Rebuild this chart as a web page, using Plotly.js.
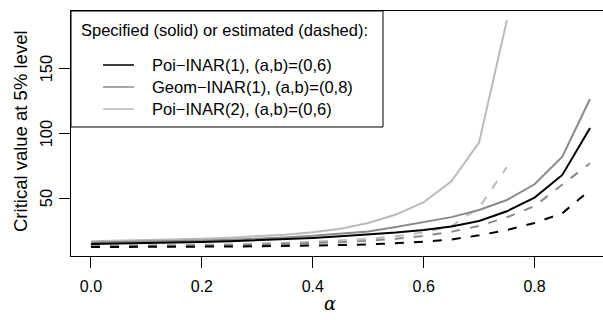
<!DOCTYPE html>
<html>
<head>
<meta charset="utf-8">
<script src="https://cdn.plot.ly/plotly-3.0.1.min.js"></script>
<style>
html, body { margin: 0; padding: 0; overflow: hidden; background: #fff; }
#chart { width: 620px; height: 320px; }
</style>
</head>
<body>
<div id="chart"></div>
<script>
// alpha grid
const alpha = [0, 0.05, 0.1, 0.15, 0.2, 0.25, 0.3, 0.35, 0.4, 0.45, 0.5, 0.55, 0.6, 0.65, 0.7, 0.75, 0.8, 0.85, 0.9];
const alpha2 = [0, 0.05, 0.1, 0.15, 0.2, 0.25, 0.3, 0.35, 0.4, 0.45, 0.5, 0.55, 0.6, 0.65, 0.7, 0.75];

// Poi-INAR(1), (a,b)=(0,6)
const poi1Spec = [14.8, 15.1, 15.4, 15.8, 16.3, 16.9, 17.6, 18.5, 19.5, 20.7, 22.0, 23.6, 25.6, 28.3, 32.5, 40.0, 50.5, 68.0, 104.0];
const poi1Est  = [12.5, 12.5, 12.6, 12.7, 12.8, 12.9, 13.1, 13.3, 13.6, 14.0, 14.5, 15.3, 16.5, 18.3, 21.5, 25.6, 31.0, 38.5, 56.4];
// Geom-INAR(1), (a,b)=(0,8)
const geomSpec = [16.0, 16.3, 16.6, 17.0, 17.5, 18.1, 18.9, 19.9, 21.1, 22.6, 24.5, 28.0, 31.5, 35.5, 41.0, 48.7, 60.8, 82.0, 126.4];
const geomEst  = [13.0, 13.1, 13.2, 13.4, 13.6, 13.9, 14.3, 14.8, 15.4, 16.2, 17.3, 18.8, 21.0, 24.3, 28.7, 35.4, 44.0, 60.2, 77.0];
// Poi-INAR(2), (a,b)=(0,6)
const poi2Spec = [17.0, 17.4, 17.8, 18.3, 18.9, 19.7, 20.7, 22.0, 23.8, 26.5, 31.0, 37.5, 47.0, 63.0, 93.0, 187.0];
const poi2Est  = [13.5, 13.6, 13.8, 14.0, 14.3, 14.6, 15.0, 15.6, 16.4, 17.4, 18.8, 20.8, 23.8, 28.5, 43.0, 74.0];

const seriesNames = ["Poi\u2212INAR(1), (a,b)=(0,6)", "Geom\u2212INAR(1), (a,b)=(0,8)", "Poi\u2212INAR(2), (a,b)=(0,6)"];
const legendTitle = "Specified (solid) or estimated (dashed):";
const yTitle = "Critical value at 5% level";
const yTickVals = [50, 100, 150];
const yTickText = ["50", "100", "150"];
const xTickVals = [0, 0.2, 0.4, 0.6, 0.8];
const xTickText = ["0.0", "0.2", "0.4", "0.6", "0.8"];

const cBlack = "#000000", cGray = "#8a8a8a", cLight = "#bababa";
const dashPat = "9px,10px";
const FONT = "Liberation Sans, Arial, Helvetica, sans-serif";

function tr(x, y, color, dash) {
  return { x: x, y: y, type: "scatter", mode: "lines", showlegend: false, hoverinfo: "skip",
           line: { color: color, width: 2, dash: dash } };
}

const data = [
  tr(alpha2, poi2Est, cLight, dashPat),
  tr(alpha, geomEst, cGray, dashPat),
  tr(alpha, poi1Est, cBlack, dashPat),
  tr(alpha2, poi2Spec, cLight, "solid"),
  tr(alpha, geomSpec, cGray, "solid"),
  tr(alpha, poi1Spec, cBlack, "solid")
];

// plot area in pixels
const L = 71, R = 610, T = 11, B = 256;
const W = 620, H = 320;
const px = p => (p - L) / (R - L);
const py = p => (B - p) / (B - T);

const legColors = [cBlack, cGray, cLight];
const legY = [65, 87, 109];
const shapes = [
  { type: "rect", xref: "paper", yref: "paper", x0: 0, x1: px(383), y0: py(127), y1: 1,
    line: { color: "#000", width: 1 }, fillcolor: "rgba(0,0,0,0)" }
];
const annotations = [
  { xref: "paper", yref: "paper", x: px(79), y: py(30), xanchor: "left", yanchor: "middle",
    text: legendTitle, showarrow: false, font: { family: FONT, size: 16.5, color: "#000" } },
  { xref: "paper", yref: "paper", x: px(330), y: py(303), xanchor: "center", yanchor: "middle",
    text: "<i>\u03b1</i>", showarrow: false, font: { family: "DejaVu Serif, serif", size: 18, color: "#000" } },
  { xref: "paper", yref: "paper", x: px(20), y: py(131), xanchor: "center", yanchor: "middle", textangle: -90,
    text: yTitle, showarrow: false, font: { family: FONT, size: 18.5, color: "#000" } }
];
// y tick labels (rotated, R style), placed at the axis values
for (let i = 0; i < yTickVals.length; i++) {
  annotations.push({ xref: "paper", yref: "y", x: px(46), y: yTickVals[i], xanchor: "center", yanchor: "middle",
                     textangle: -90, text: yTickText[i], showarrow: false,
                     font: { family: FONT, size: 16.5, color: "#000" } });
}
for (let i = 0; i < 3; i++) {
  shapes.push({ type: "line", xref: "paper", yref: "paper", x0: px(103), x1: px(134), y0: py(legY[i]), y1: py(legY[i]),
                line: { color: legColors[i], width: 1.5 } });
  annotations.push({ xref: "paper", yref: "paper", x: px(150), y: py(legY[i]), xanchor: "left", yanchor: "middle",
                     text: seriesNames[i], showarrow: false, font: { family: FONT, size: 16.5, color: "#000" } });
}

const layout = {
  width: W, height: H,
  margin: { l: L, r: W - R, t: T, b: H - B, pad: 0 },
  paper_bgcolor: "#fff", plot_bgcolor: "#fff",
  font: { family: FONT, size: 16, color: "#000" },
  xaxis: {
    range: [-0.036, 0.936], tickvals: xTickVals, ticktext: xTickText,
    ticks: "outside", ticklen: 11, tickcolor: "#000", tickwidth: 1, ticklabelstandoff: 5,
    showline: true, mirror: true, linecolor: "#000", linewidth: 1,
    showgrid: false, zeroline: false, tickfont: { family: FONT, size: 16 }
  },
  yaxis: {
    range: [5.6, 194.1], tickvals: yTickVals, showticklabels: false,
    ticks: "outside", ticklen: 11, tickcolor: "#000", tickwidth: 1,
    showline: true, mirror: true, linecolor: "#000", linewidth: 1,
    showgrid: false, zeroline: false
  },
  shapes: shapes,
  annotations: annotations
};

Plotly.newPlot("chart", data, layout, { displayModeBar: false, staticPlot: true });
</script>
</body>
</html>
